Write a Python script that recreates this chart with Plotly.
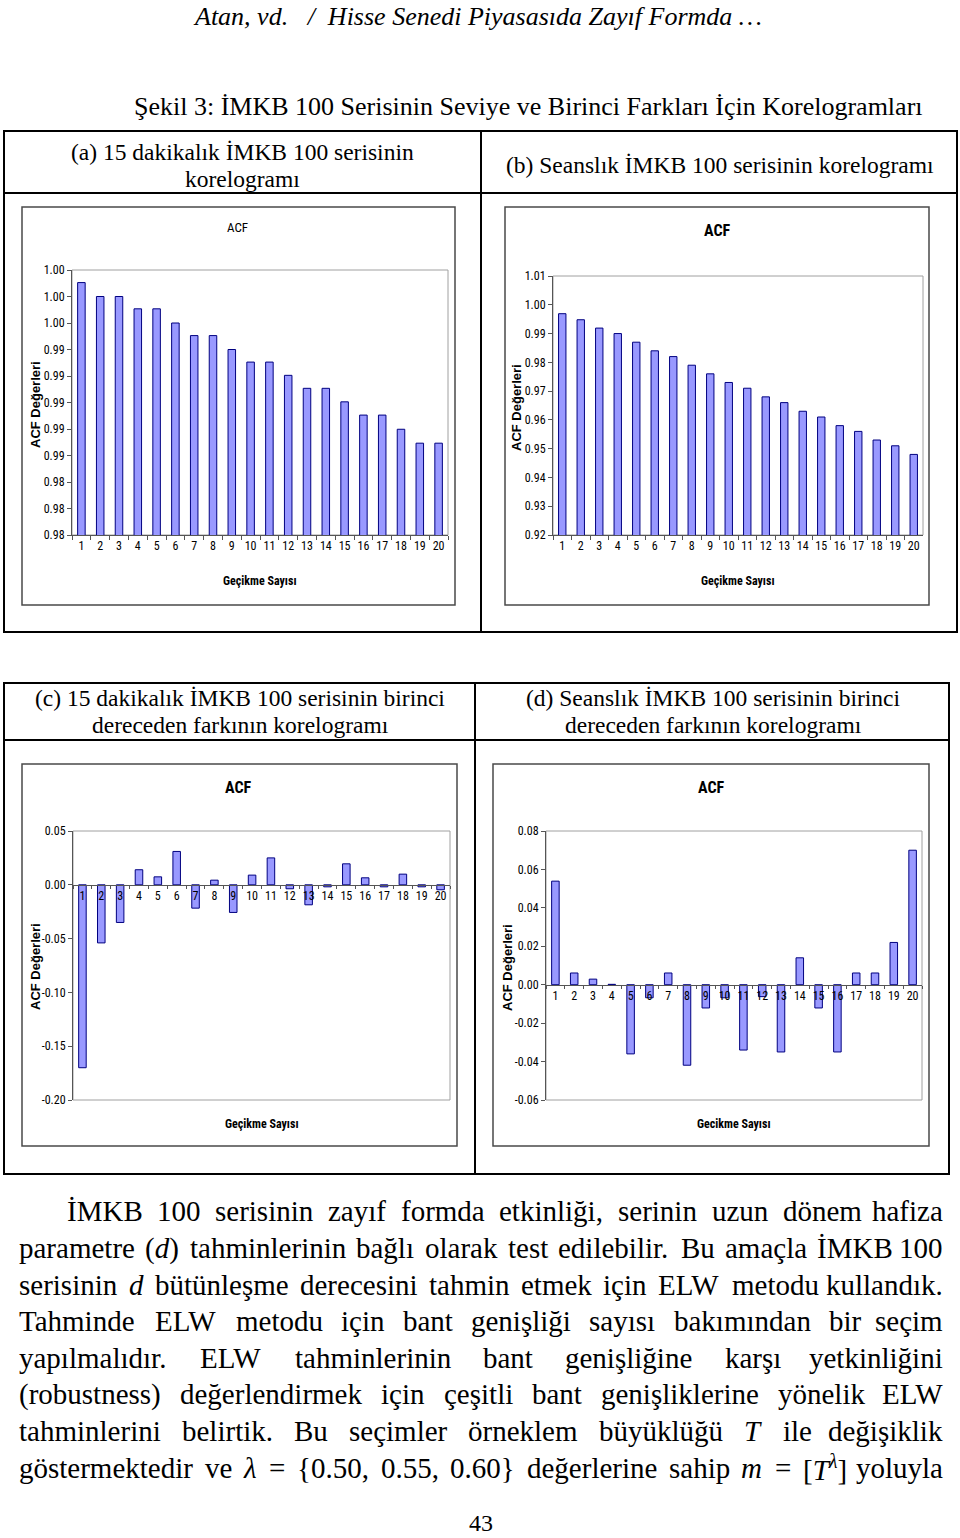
import plotly.graph_objects as go

# ---------------- data ----------------
LAGS = [str(i) for i in range(1, 21)]

ACF_A = [0.99905, 0.9980, 0.9980, 0.99707, 0.99707, 0.9960, 0.99505, 0.99505, 0.9940, 0.99305,
         0.99305, 0.99205, 0.99107, 0.99107, 0.99005, 0.98905, 0.98905, 0.98798, 0.98693, 0.98693]
ACF_B = [0.9969, 0.9948, 0.9919, 0.9900, 0.9870, 0.9840, 0.9820, 0.9790, 0.9760, 0.9730,
         0.9710, 0.9680, 0.9660, 0.9630, 0.9610, 0.9580, 0.9560, 0.9530, 0.9510, 0.9480]
ACF_C = [-0.170, -0.054, -0.035, 0.014, 0.0074, 0.031, -0.0217, 0.0043, -0.0257, 0.009,
         0.025, -0.0037, -0.0186, -0.0019, 0.0195, 0.0065, -0.0019, 0.0099, -0.0019, -0.0046]
ACF_D = [0.0539, 0.0061, 0.0029, 0.0002, -0.036, -0.0068, 0.0061, -0.0419, -0.0121, -0.0068,
         -0.034, -0.0062, -0.035, 0.014, -0.0121, -0.035, 0.0061, 0.0061, 0.022, 0.070]

TICKS_A = [0.980, 0.982, 0.984, 0.986, 0.988, 0.990, 0.992, 0.994, 0.996, 0.998, 1.000]
TICKS_B = [0.92, 0.93, 0.94, 0.95, 0.96, 0.97, 0.98, 0.99, 1.00, 1.01]
TICKS_C = [-0.20, -0.15, -0.10, -0.05, 0.00, 0.05]
TICKS_D = [-0.06, -0.04, -0.02, 0.00, 0.02, 0.04, 0.06, 0.08]

# ---------------- helpers ----------------
W, H = 960, 1538
def fx(x): return x / W
def fy(y): return 1 - y / H

SERIF = "Liberation Serif, Times New Roman, serif"
NARROW = "Liberation Sans Narrow, Arial Narrow, Roboto Condensed, DejaVu Sans Condensed, sans-serif"
SANS = "Liberation Sans, Arial, sans-serif"

# Times / Liberation Serif advance widths (1/1000 em)
CW = {' ': 250, 'a': 444, 'b': 500, 'c': 444, 'd': 500, 'e': 444, 'f': 333, 'g': 500, 'h': 500,
      'i': 278, 'j': 278, 'k': 500, 'l': 278, 'm': 778, 'n': 500, 'o': 500, 'p': 500, 'q': 500,
      'r': 333, 's': 389, 't': 278, 'u': 500, 'v': 500, 'w': 722, 'x': 500, 'y': 500, 'z': 444,
      'A': 722, 'B': 667, 'C': 667, 'D': 722, 'E': 611, 'F': 556, 'G': 722, 'H': 722, 'I': 333,
      'K': 722, 'L': 611, 'M': 889, 'N': 722, 'O': 722, 'P': 556, 'R': 667, 'S': 556, 'T': 611,
      'W': 944, 'Y': 722, '.': 250, ',': 250, '(': 333, ')': 333, '{': 480, '}': 480, '[': 333,
      ']': 333, '=': 564, ':': 278, 'ı': 278, 'ş': 389, 'ç': 444, 'ğ': 500, 'ü': 500, 'ö': 500,
      'İ': 333, 'Ş': 556, 'λ': 500}
def tw(s):
    return sum(CW.get(ch, 500) for ch in s) / 1000.0

fig = go.Figure()

# ---------------- charts ----------------
BAR = dict(color="#9999FF", line=dict(color="#000080", width=1))
for i, vals in enumerate([ACF_A, ACF_B, ACF_C, ACF_D]):
    sfx = "" if i == 0 else str(i + 1)
    fig.add_trace(go.Bar(x=LAGS, y=vals, marker=BAR, width=0.4,
                         xaxis="x" + sfx, yaxis="y" + sfx, hoverinfo="skip", showlegend=False))

plots = {
    "a": (72, 448, 270, 535, TICKS_A, [0.98, 1.0]),
    "b": (553, 923, 276, 535, TICKS_B, [0.92, 1.01]),
    "c": (73, 450, 831, 1100, TICKS_C, [-0.20, 0.05]),
    "d": (546, 922, 831, 1100, TICKS_D, [-0.06, 0.08]),
}
AXC = "#555555"
layout_axes = {}
for i, key in enumerate(["a", "b", "c", "d"]):
    x0, x1, yt, yb, ticks, rng = plots[key]
    sfx = "" if i == 0 else str(i + 1)
    ydom = [fy(yb), fy(yt)]
    xa = dict(domain=[fx(x0), fx(x1)], type="category", tickson="boundaries", ticks="outside",
              ticklen=4, tickcolor=AXC, showline=True, linecolor=AXC, linewidth=1,
              showgrid=False, zeroline=False, fixedrange=True, tickangle=0, automargin=False,
              tickfont=dict(family=NARROW, size=12, color="#000"))
    if key in ("c", "d"):
        frac = (0 - rng[0]) / (rng[1] - rng[0])
        xa.update(anchor="free", position=ydom[0] + frac * (ydom[1] - ydom[0]), ticklen=3)
    else:
        xa.update(anchor="y" + sfx)
    ya = dict(domain=ydom, range=rng, tickmode="array", tickvals=ticks,
              ticktext=[f"{v:.2f}" for v in ticks], ticks="outside", ticklen=4, tickcolor=AXC,
              showline=True, linecolor=AXC, linewidth=1, showgrid=False, zeroline=False,
              fixedrange=True, anchor="x" + sfx, automargin=False,
              tickfont=dict(family=NARROW, size=12, color="#000"))
    layout_axes["xaxis" + sfx] = xa
    layout_axes["yaxis" + sfx] = ya

shapes = []
for i in range(4):
    sfx = "" if i == 0 else str(i + 1)
    shapes.append(dict(type="rect", xref=f"x{sfx} domain", yref=f"y{sfx} domain",
                       x0=0, x1=1, y0=0, y1=1, line=dict(color="#A0A0A0", width=1),
                       layer="below"))

def rect(x0, y0, x1, y1, color="#000", width=2):
    shapes.append(dict(type="rect", xref="paper", yref="paper", x0=fx(x0), x1=fx(x1),
                       y0=fy(y1), y1=fy(y0), line=dict(color=color, width=width)))
def line(x0, y0, x1, y1, color="#000", width=2):
    shapes.append(dict(type="line", xref="paper", yref="paper", x0=fx(x0), x1=fx(x1),
                       y0=fy(y0), y1=fy(y1), line=dict(color=color, width=width)))

# chart frames
rect(22, 207, 455, 605, "#4a4a4a", 1.5)
rect(505, 207, 929, 605, "#4a4a4a", 1.5)
rect(22, 764, 457, 1146, "#4a4a4a", 1.5)
rect(493, 764, 929, 1146, "#4a4a4a", 1.5)

# tables
rect(4, 131, 957, 632, "#000", 2)
line(4, 193, 957, 193)
line(481, 131, 481, 632)
rect(4, 683, 949, 1174, "#000", 2)
line(4, 740, 949, 740)
line(475, 683, 475, 1174)

ann = []
def text(x, y, s, size, family=SERIF, xanchor="center", color="#000", angle=0):
    ann.append(dict(x=fx(x), y=fy(y), xref="paper", yref="paper", text=s, showarrow=False,
                    xanchor=xanchor, yanchor="middle", textangle=angle,
                    font=dict(family=family, size=size, color=color)))

# page header and title
text(477, 16, "<i>Atan, vd.\u00a0\u00a0 /\u00a0 Hisse Senedi Piyasasıda Zayıf Formda …</i>", 26)
text(528, 106, "Şekil 3: İMKB 100 Serisinin Seviye ve Birinci Farkları İçin Korelogramları", 26)

SUB = 23.5
text(242, 152, "(a) 15 dakikalık İMKB 100 serisinin", SUB)
text(242, 179, "korelogramı", SUB)
text(720, 165, "(b) Seanslık İMKB 100 serisinin korelogramı", SUB)
text(240, 698, "(c) 15 dakikalık İMKB 100 serisinin birinci", SUB)
text(240, 725, "dereceden farkının korelogramı", SUB)
text(713, 698, "(d) Seanslık İMKB 100 serisinin birinci", SUB)
text(713, 725, "dereceden farkının korelogramı", SUB)

# chart texts
text(237, 227, "ACF", 13, NARROW)
text(717, 230, "<b>ACF</b>", 16, NARROW)
text(238, 787, "<b>ACF</b>", 16, NARROW)
text(711, 787, "<b>ACF</b>", 16, NARROW)
text(260, 581, "<b>Geçikme Sayısı</b>", 12, NARROW)
text(738, 581, "<b>Geçikme Sayısı</b>", 12, NARROW)
text(262, 1124, "<b>Geçikme Sayısı</b>", 12, NARROW)
text(734, 1124, "<b>Gecikme Sayısı</b>", 12, NARROW)
text(35, 405, "<b>ACF Değerleri</b>", 13, SANS, angle=-90)
text(517, 408, "<b>ACF Değerleri</b>", 13, SANS, angle=-90)
text(35, 967, "<b>ACF Değerleri</b>", 13, SANS, angle=-90)
text(507, 967, "<b>ACF Değerleri</b>", 13, SANS, angle=-90)

# ---------------- paragraph (justified) ----------------
PF = 29
LEFT, RIGHT = 17, 945
para = [
    (65, 1211, ["İMKB", "100", "serisinin", "zayıf", "formda", "etkinliği,", "serinin", "uzun",
                "dönem", "hafiza"]),
    (17, 1248, ["parametre", ("(d)", "(<i>d</i>)"), "tahminlerinin", "bağlı", "olarak", "test",
                "edilebilir.", "Bu", "amaçla", "İMKB", "100"]),
    (17, 1285, ["serisinin", ("d", "<i>d</i>"), "bütünleşme", "derecesini", "tahmin", "etmek",
                "için", "ELW", "metodu", "kullandık."]),
    (17, 1321, ["Tahminde", "ELW", "metodu", "için", "bant", "genişliği", "sayısı",
                "bakımından", "bir", "seçim"]),
    (17, 1358, ["yapılmalıdır.", "ELW", "tahminlerinin", "bant", "genişliğine", "karşı",
                "yetkinliğini"]),
    (17, 1394, ["(robustness)", "değerlendirmek", "için", "çeşitli", "bant", "genişliklerine",
                "yönelik", "ELW"]),
    (17, 1431, ["tahminlerini", "belirtik.", "Bu", "seçimler", "örneklem", "büyüklüğü",
                ("T", "<i>T</i>"), "ile", "değişiklik"]),
    (17, 1468, ["göstermektedir", "ve", ("λ", "<i>λ</i>"), "=", "{0.50,", "0.55,", "0.60}",
                "değerlerine", "sahip", ("m", "<i>m</i>"), "=",
                ("[Tl]", "[<i>T</i><sup><i>λ</i></sup>]"), "yoluyla"]),
]
for start, y, words in para:
    items = [(w, w) if isinstance(w, str) else w for w in words]
    widths = [tw(m) * PF for m, _ in items]
    gap = (RIGHT - start - sum(widths)) / (len(items) - 1)
    x = start
    for k, ((m, h), wd) in enumerate(zip(items, widths)):
        if k == len(items) - 1:
            text(RIGHT, y, h, PF, xanchor="right")
        else:
            text(x, y, h, PF, xanchor="left")
        x += wd + gap

text(481, 1523, "43", 24)

fig.update_layout(width=W, height=H,
                  margin=dict(l=0, r=0, t=0, b=0, pad=0, autoexpand=False),
                  paper_bgcolor="white", plot_bgcolor="white", bargap=0.6,
                  shapes=shapes, annotations=ann, showlegend=False, **layout_axes)
fig.write_html("out.html", config={"displayModeBar": False, "staticPlot": True},
               post_script="document.body.style.margin='0';"
                           "document.documentElement.style.overflow='hidden';"
                           "document.body.style.overflow='hidden';")
